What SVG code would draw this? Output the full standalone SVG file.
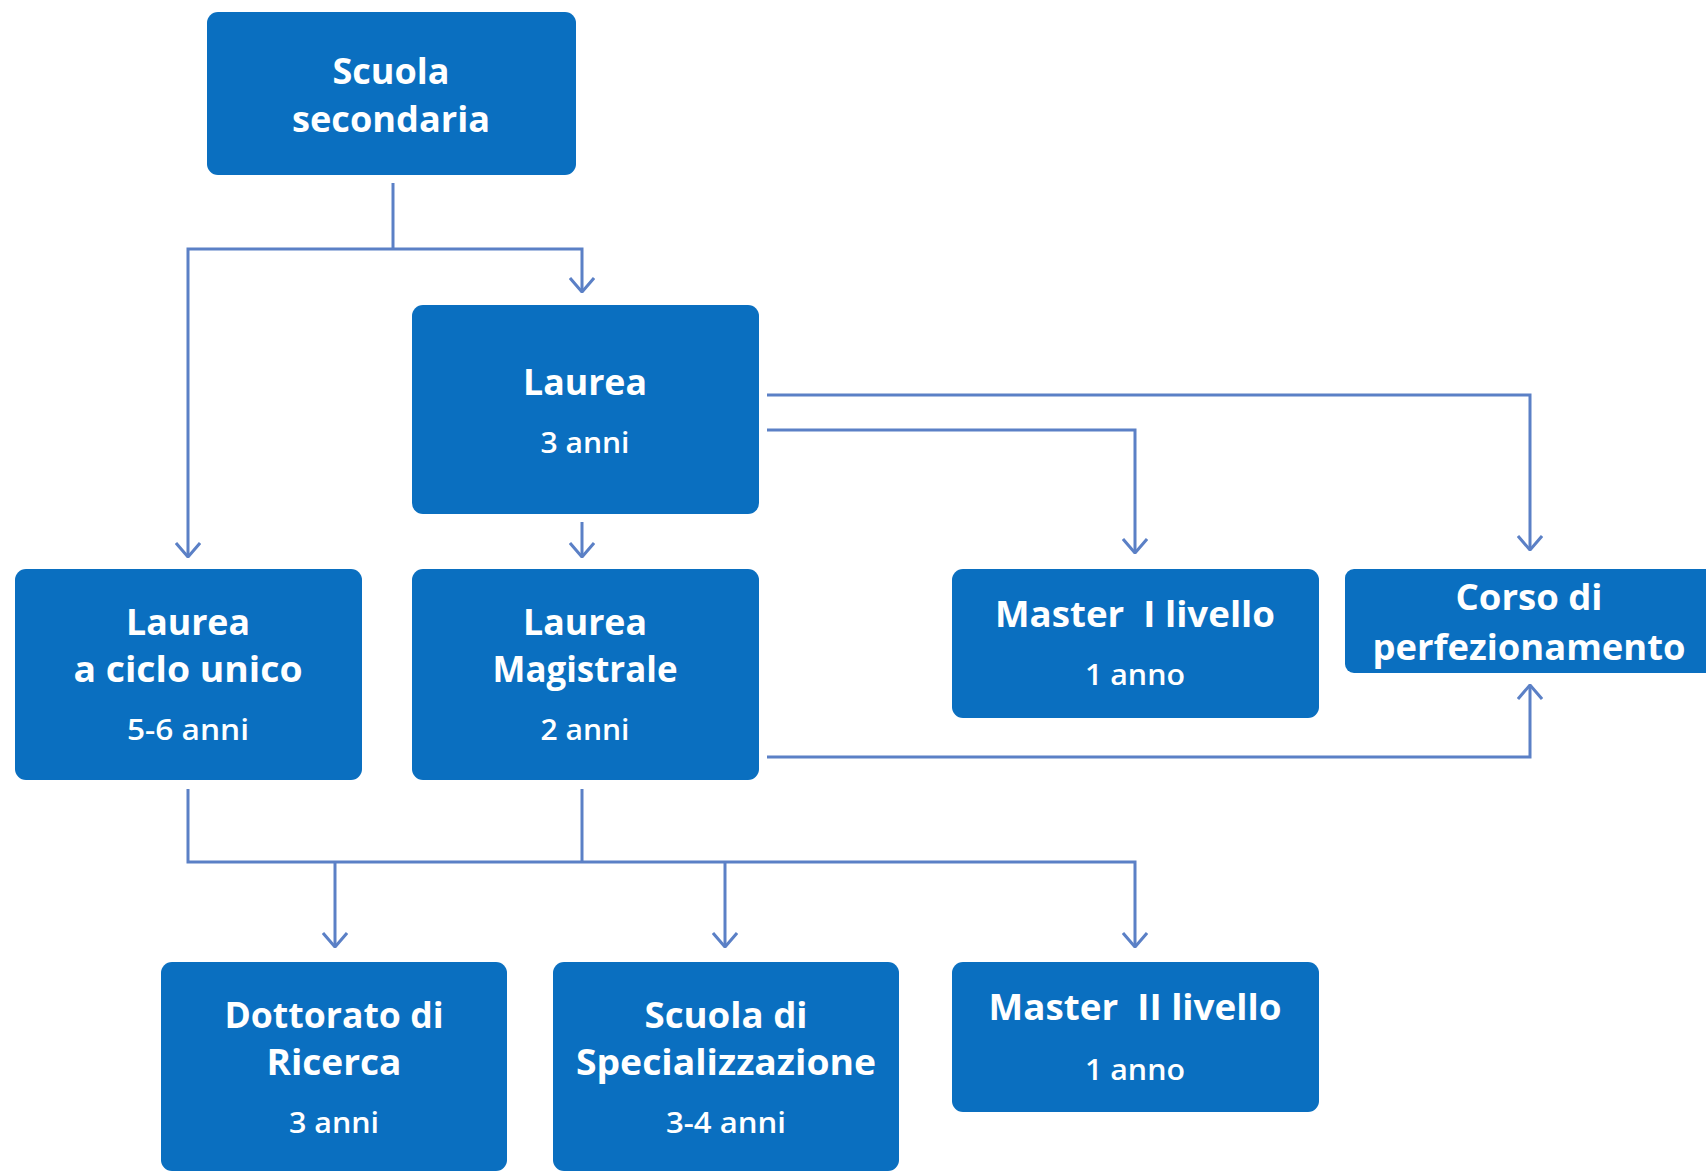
<svg xmlns="http://www.w3.org/2000/svg" width="1706" height="1172" viewBox="0 0 1706 1172">
<style>
.box{fill:#0a6fc0}
.t{fill:#ffffff;font-family:"Open Sans","DejaVu Sans",sans-serif;font-weight:700;text-anchor:middle}
.a{font-size:36px}
.b{font-size:29px;font-weight:600}
.c{fill:none;stroke:#5b80c6;stroke-width:3}
</style>
<defs>
<marker id="arr" viewBox="0 0 16 26" refX="15" refY="13" markerWidth="16" markerHeight="26" markerUnits="userSpaceOnUse" orient="auto">
<path d="M1,1 L15,13 L1,25" fill="none" stroke="#5b80c6" stroke-width="3"/>
</marker>
</defs>
<rect width="1706" height="1172" fill="#ffffff"/>
<g id="connectors">
<path class="c" d="M393,183 V249"/>
<path class="c" d="M393,249 H188 V557" marker-end="url(#arr)"/>
<path class="c" d="M393,249 H582 V292" marker-end="url(#arr)"/>
<path class="c" d="M582,522 V557" marker-end="url(#arr)"/>
<path class="c" d="M767,395 H1530 V550" marker-end="url(#arr)"/>
<path class="c" d="M767,430 H1135 V553" marker-end="url(#arr)"/>
<path class="c" d="M767,757 H1530 V685" marker-end="url(#arr)"/>
<path class="c" d="M188,789 V862 H1135 V947" marker-end="url(#arr)"/>
<path class="c" d="M582,789 V862"/>
<path class="c" d="M335,862 V947" marker-end="url(#arr)"/>
<path class="c" d="M725,862 V947" marker-end="url(#arr)"/>
</g>
<g id="scuola-secondaria">
<rect class="box" x="207" y="12" width="369" height="163" rx="11"/>
<text class="t a" x="391" y="84" textLength="117" lengthAdjust="spacingAndGlyphs">Scuola</text>
<text class="t a" x="391" y="132" textLength="198" lengthAdjust="spacingAndGlyphs">secondaria</text>
</g>
<g id="laurea">
<rect class="box" x="412" y="305" width="347" height="209" rx="11"/>
<text class="t a" x="585" y="395" textLength="124" lengthAdjust="spacingAndGlyphs">Laurea</text>
<text class="t b" x="585" y="453" textLength="89" lengthAdjust="spacingAndGlyphs">3 anni</text>
</g>
<g id="laurea-ciclo-unico">
<rect class="box" x="15" y="569" width="347" height="211" rx="11"/>
<text class="t a" x="188" y="635" textLength="124" lengthAdjust="spacingAndGlyphs">Laurea</text>
<text class="t a" x="188" y="682" textLength="229" lengthAdjust="spacingAndGlyphs">a ciclo unico</text>
<text class="t b" x="188" y="740" textLength="122" lengthAdjust="spacingAndGlyphs">5-6 anni</text>
</g>
<g id="laurea-magistrale">
<rect class="box" x="412" y="569" width="347" height="211" rx="11"/>
<text class="t a" x="585" y="635" textLength="124" lengthAdjust="spacingAndGlyphs">Laurea</text>
<text class="t a" x="585" y="682" textLength="185" lengthAdjust="spacingAndGlyphs">Magistrale</text>
<text class="t b" x="585" y="740" textLength="89" lengthAdjust="spacingAndGlyphs">2 anni</text>
</g>
<g id="master-1">
<rect class="box" x="952" y="569" width="367" height="149" rx="11"/>
<text class="t a" x="1135" y="627" textLength="280" lengthAdjust="spacingAndGlyphs" xml:space="preserve">Master  I livello</text>
<text class="t b" x="1135" y="685" textLength="100" lengthAdjust="spacingAndGlyphs">1 anno</text>
</g>
<g id="corso-perfezionamento">
<rect class="box" x="1345" y="569" width="380" height="104" rx="9"/>
<text class="t a" x="1529" y="610" textLength="147" lengthAdjust="spacingAndGlyphs">Corso di</text>
<text class="t a" x="1529" y="660" textLength="313" lengthAdjust="spacingAndGlyphs">perfezionamento</text>
</g>
<g id="dottorato">
<rect class="box" x="161" y="962" width="346" height="209" rx="11"/>
<text class="t a" x="334" y="1028" textLength="219" lengthAdjust="spacingAndGlyphs">Dottorato di</text>
<text class="t a" x="334" y="1075" textLength="135" lengthAdjust="spacingAndGlyphs">Ricerca</text>
<text class="t b" x="334" y="1133" textLength="90" lengthAdjust="spacingAndGlyphs">3 anni</text>
</g>
<g id="scuola-specializzazione">
<rect class="box" x="553" y="962" width="346" height="209" rx="11"/>
<text class="t a" x="726" y="1028" textLength="163" lengthAdjust="spacingAndGlyphs">Scuola di</text>
<text class="t a" x="726" y="1075" textLength="300" lengthAdjust="spacingAndGlyphs">Specializzazione</text>
<text class="t b" x="726" y="1133" textLength="120" lengthAdjust="spacingAndGlyphs">3-4 anni</text>
</g>
<g id="master-2">
<rect class="box" x="952" y="962" width="367" height="150" rx="11"/>
<text class="t a" x="1135" y="1020" textLength="293" lengthAdjust="spacingAndGlyphs" xml:space="preserve">Master  II livello</text>
<text class="t b" x="1135" y="1080" textLength="100" lengthAdjust="spacingAndGlyphs">1 anno</text>
</g>
</svg>
